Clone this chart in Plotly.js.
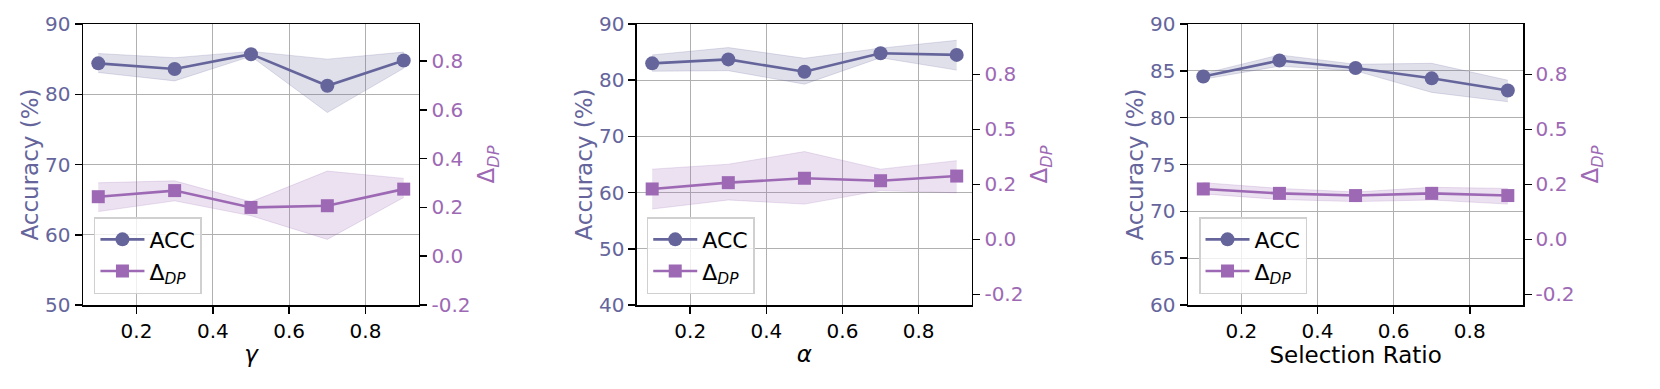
<!DOCTYPE html>
<html>
<head>
<meta charset="utf-8">
<script src="https://cdn.plot.ly/plotly-3.0.1.min.js"></script>
<style>
  body { margin: 0; background: #fff; }
  #chart { width: 1660px; height: 389px; }
</style>
</head>
<body>
<div id="chart"></div>
<script>
// shared x values
const xVals = [0.1, 0.3, 0.5, 0.7, 0.9];

// panel 1: gamma
const gammaAcc = [84.4, 83.6, 85.7, 81.2, 84.8];
const gammaAccLo = [83.1, 81.9, 85.4, 77.4, 83.7];
const gammaAccHi = [85.8, 85.2, 86.1, 85.0, 86.0];
const gammaDp = [0.244, 0.269, 0.200, 0.207, 0.275];
const gammaDpLo = [0.183, 0.227, 0.166, 0.069, 0.241];
const gammaDpHi = [0.301, 0.309, 0.223, 0.349, 0.319];

// panel 2: alpha
const alphaAcc = [83.0, 83.7, 81.5, 84.8, 84.5];
const alphaAccLo = [81.6, 81.7, 79.3, 84.0, 81.8];
const alphaAccHi = [84.5, 85.8, 83.9, 85.7, 87.1];
const alphaDp = [0.183, 0.206, 0.222, 0.213, 0.230];
const alphaDpLo = [0.110, 0.143, 0.128, 0.177, 0.169];
const alphaDpHi = [0.255, 0.273, 0.319, 0.255, 0.286];

// panel 3: selection ratio
const ratioAcc = [84.4, 86.1, 85.3, 84.2, 82.9];
const ratioAccLo = [84.1, 85.5, 85.0, 82.7, 81.7];
const ratioAccHi = [84.7, 86.7, 85.7, 85.8, 84.0];
const ratioDp = [0.183, 0.167, 0.159, 0.167, 0.159];
const ratioDpLo = [0.165, 0.145, 0.137, 0.143, 0.128];
const ratioDpHi = [0.206, 0.185, 0.172, 0.189, 0.185];

// axis ticks
const xTicks = [0.2, 0.4, 0.6, 0.8];
const leftTicks = [[50, 60, 70, 80, 90], [40, 50, 60, 70, 80, 90], [60, 65, 70, 75, 80, 85, 90]];
const rightTickVals = [[-0.2, 0, 0.2, 0.4, 0.6, 0.8], [-0.2, 0, 0.2, 0.4, 0.6], [-0.2, 0, 0.2, 0.4, 0.6]];
const rightTickText = [['-0.2', '0.0', '0.2', '0.4', '0.6', '0.8'], ['-0.2', '0.0', '0.2', '0.5', '0.8'], ['-0.2', '0.0', '0.2', '0.5', '0.8']];
const xTitles = ['<i>γ</i>', '<i>α</i>', 'Selection Ratio'];

const accColor = '#65659c';
const dpColor = '#9d69b4';
const accFill = 'rgba(101,101,156,0.2)';
const dpFill = 'rgba(157,105,180,0.2)';
const font = 'DejaVu Sans, sans-serif';
const tickSize = 20;
const titleSize = 23;

const panels = [
  {acc: gammaAcc, accLo: gammaAccLo, accHi: gammaAccHi, dp: gammaDp, dpLo: gammaDpLo, dpHi: gammaDpHi,
   dom: [0.05, 0.2524], left: [50, 90], right: [-0.2, 0.952], legX: 0.0566},
  {acc: alphaAcc, accLo: alphaAccLo, accHi: alphaAccHi, dp: alphaDp, dpLo: alphaDpLo, dpHi: alphaDpHi,
   dom: [0.3837, 0.5855], left: [40, 90], right: [-0.239, 0.783], legX: 0.3896},
  {acc: ratioAcc, accLo: ratioAccLo, accHi: ratioAccHi, dp: ratioDp, dpLo: ratioDpLo, dpHi: ratioDpHi,
   dom: [0.7157, 0.9175], left: [60, 90], right: [-0.239, 0.783], legX: 0.7223}
];

const traces = [];
const layout = {
  width: 1660, height: 389,
  margin: {l: 0, r: 0, t: 24, b: 84},
  paper_bgcolor: '#fff', plot_bgcolor: '#fff',
  font: {family: font, size: 20, color: '#000'}
};

panels.forEach((p, i) => {
  const xa = i === 0 ? 'x' : 'x' + (i + 1);
  const yl = 'y' + (2 * i + 1 === 1 ? '' : 2 * i + 1);
  const yr = 'y' + (2 * i + 2);
  const leg = i === 0 ? 'legend' : 'legend' + (i + 1);

  traces.push({x: xVals, y: p.accLo, xaxis: xa, yaxis: yl, mode: 'lines',
    line: {color: accFill, width: 1}, showlegend: false, hoverinfo: 'skip'});
  traces.push({x: xVals, y: p.accHi, xaxis: xa, yaxis: yl, mode: 'lines', fill: 'tonexty',
    fillcolor: accFill, line: {color: accFill, width: 1}, showlegend: false, hoverinfo: 'skip'});
  traces.push({x: xVals, y: p.acc, xaxis: xa, yaxis: yl, mode: 'lines+markers', name: 'ACC',
    legend: leg, line: {color: accColor, width: 2.6}, marker: {symbol: 'circle', size: 14, color: accColor}});

  traces.push({x: xVals, y: p.dpLo, xaxis: xa, yaxis: yr, mode: 'lines',
    line: {color: dpFill, width: 1}, showlegend: false, hoverinfo: 'skip'});
  traces.push({x: xVals, y: p.dpHi, xaxis: xa, yaxis: yr, mode: 'lines', fill: 'tonexty',
    fillcolor: dpFill, line: {color: dpFill, width: 1}, showlegend: false, hoverinfo: 'skip'});
  traces.push({x: xVals, y: p.dp, xaxis: xa, yaxis: yr, mode: 'lines+markers', name: 'Δ<sub><i>DP</i></sub>',
    legend: leg, line: {color: dpColor, width: 2.6}, marker: {symbol: 'square', size: 13, color: dpColor}});

  const xKey = i === 0 ? 'xaxis' : 'xaxis' + (i + 1);
  const ylKey = 'yaxis' + (2 * i + 1 === 1 ? '' : 2 * i + 1);
  const yrKey = 'yaxis' + (2 * i + 2);

  layout[xKey] = {
    domain: p.dom, anchor: yl, range: [0.06, 0.94], tickvals: xTicks, ticktext: xTicks.map(v => v.toFixed(1)),
    showgrid: true, gridcolor: '#b0b0b0', gridwidth: 1.2, zeroline: false,
    showline: true, mirror: true, linecolor: '#000', linewidth: 1.5,
    ticks: 'outside', ticklen: 7, tickwidth: 1.5, tickcolor: '#000',
    tickfont: {size: tickSize, color: '#000'},
    title: {text: xTitles[i], font: {size: titleSize, color: '#000'}, standoff: 4}
  };
  layout[ylKey] = {
    domain: [0, 1], anchor: xa, range: p.left, tickvals: leftTicks[i],
    showgrid: true, gridcolor: '#b0b0b0', gridwidth: 1.2, zeroline: false,
    showline: true, linecolor: '#000', linewidth: 1.5,
    ticks: 'outside', ticklen: 7, tickwidth: 1.5, tickcolor: '#000',
    tickfont: {size: tickSize, color: accColor},
    title: {text: 'Accuracy (%)', font: {size: titleSize, color: accColor}, standoff: 0}
  };
  layout[yrKey] = {
    overlaying: yl, side: 'right', anchor: xa, range: p.right,
    tickvals: rightTickVals[i], ticktext: rightTickText[i],
    showgrid: false, zeroline: false,
    showline: true, linecolor: '#000', linewidth: 1.5,
    ticks: 'outside', ticklen: 7, tickwidth: 1.5, tickcolor: '#000',
    tickfont: {size: tickSize, color: dpColor},
    title: {text: 'Δ<sub><i>DP</i></sub>', font: {size: titleSize, color: dpColor}, standoff: 8}
  };
  layout[leg] = {
    x: p.legX, y: 0.039, xanchor: 'left', yanchor: 'bottom', traceorder: 'normal',
    bgcolor: 'rgba(255,255,255,0.8)', bordercolor: '#d0d0d0', borderwidth: 1.5,
    font: {size: 22, color: '#000'}, itemwidth: 44, tracegroupgap: 4
  };
});

Plotly.newPlot('chart', traces, layout, {displayModeBar: false, staticPlot: true});
</script>
</body>
</html>
